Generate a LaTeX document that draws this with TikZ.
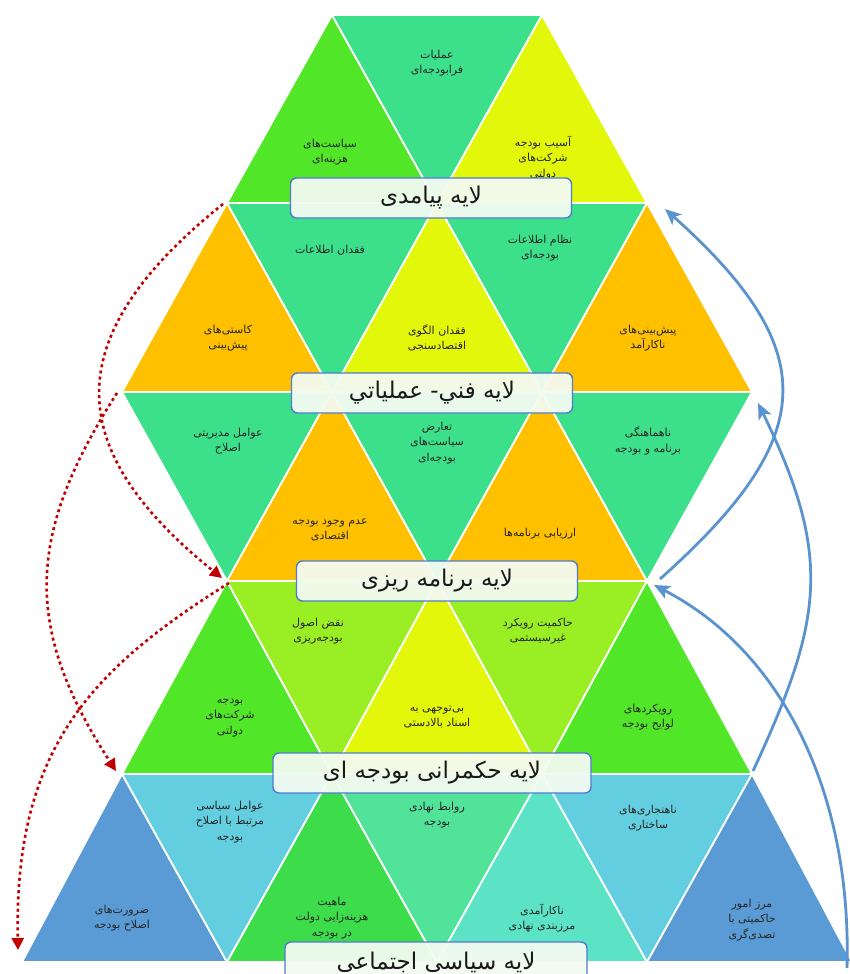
\documentclass[tikz,border=0pt]{standalone}
\usepackage{fontspec}
\usetikzlibrary{arrows.meta}
\TeXXeTstate=1
\newfontfamily\arabicfont[Script=Arabic]{DejaVu Sans}
\newcommand{\fa}[1]{{\arabicfont\beginR #1\endR}}
\definecolor{cGreen}{HTML}{52E628}
\definecolor{cTeal}{HTML}{3DE08A}
\definecolor{cYel}{HTML}{E3F70A}
\definecolor{cOrange}{HTML}{FFC000}
\definecolor{cLGreen}{HTML}{9AEE24}
\definecolor{cBlue}{HTML}{5B9BD5}
\definecolor{cLBlue}{HTML}{63CEDF}
\definecolor{cGreenB}{HTML}{3DDC4A}
\definecolor{cMint}{HTML}{52E39B}
\definecolor{cTurq}{HTML}{5CE3C6}
\definecolor{cRed}{HTML}{C00000}
\definecolor{cArrow}{HTML}{5B93CF}
\definecolor{cBoxLine}{HTML}{4F7BD0}
\definecolor{cBoxFill}{HTML}{F3FBF1}
\begin{document}
\begin{tikzpicture}[x=1pt,y=-1pt,
  tri/.style={draw=white,line width=1.8pt,line join=round},
  txt/.style={font=\fontsize{11}{15.5}\selectfont,text=black!85,align=center,inner sep=1pt},
  lab/.style={draw=cBoxLine,line width=1.4pt,fill=cBoxFill,fill opacity=0.95,text opacity=1,rounded corners=6pt,font=\fontsize{23}{26}\selectfont,text=black!90,minimum height=40pt,inner sep=0pt},
  reddot/.style={draw=cRed,line width=2.6pt,dash pattern=on 3pt off 3.2pt,-{Triangle[length=12pt,width=12pt]}},
  bluearr/.style={draw=cArrow,line width=2.8pt,-{Stealth[length=16pt,width=14pt,inset=4pt]}}]
\useasboundingbox (0,0) rectangle (849,974);
\fill[white] (0,0) rectangle (849,974);
% row 1
\filldraw[tri,fill=cGreen] (332,15) -- (437,203) -- (227,203) -- cycle;
\filldraw[tri,fill=cTeal] (332,15) -- (542,15) -- (437,203) -- cycle;
\filldraw[tri,fill=cYel] (542,15) -- (647,203) -- (437,203) -- cycle;
% row 2
\filldraw[tri,fill=cOrange] (227,203) -- (332,392) -- (122,392) -- cycle;
\filldraw[tri,fill=cTeal] (227,203) -- (437,203) -- (332,392) -- cycle;
\filldraw[tri,fill=cYel] (437,203) -- (542,392) -- (332,392) -- cycle;
\filldraw[tri,fill=cTeal] (437,203) -- (647,203) -- (542,392) -- cycle;
\filldraw[tri,fill=cOrange] (647,203) -- (752,392) -- (542,392) -- cycle;
% row 3
\filldraw[tri,fill=cTeal] (122,392) -- (332,392) -- (227,581) -- cycle;
\filldraw[tri,fill=cOrange] (332,392) -- (437,581) -- (227,581) -- cycle;
\filldraw[tri,fill=cTeal] (332,392) -- (542,392) -- (437,581) -- cycle;
\filldraw[tri,fill=cOrange] (542,392) -- (647,581) -- (437,581) -- cycle;
\filldraw[tri,fill=cTeal] (542,392) -- (752,392) -- (647,581) -- cycle;
% row 4
\filldraw[tri,fill=cGreen] (227,581) -- (332,774) -- (122,774) -- cycle;
\filldraw[tri,fill=cLGreen] (227,581) -- (437,581) -- (332,774) -- cycle;
\filldraw[tri,fill=cYel] (437,581) -- (542,774) -- (332,774) -- cycle;
\filldraw[tri,fill=cLGreen] (437,581) -- (647,581) -- (542,774) -- cycle;
\filldraw[tri,fill=cGreen] (647,581) -- (752,774) -- (542,774) -- cycle;
% row 5
\filldraw[tri,fill=cBlue] (122,774) -- (227,962) -- (22,962) -- cycle;
\filldraw[tri,fill=cLBlue] (122,774) -- (332,774) -- (227,962) -- cycle;
\filldraw[tri,fill=cGreenB] (332,774) -- (437,962) -- (227,962) -- cycle;
\filldraw[tri,fill=cMint] (332,774) -- (542,774) -- (437,962) -- cycle;
\filldraw[tri,fill=cTurq] (542,774) -- (647,962) -- (437,962) -- cycle;
\filldraw[tri,fill=cLBlue] (542,774) -- (752,774) -- (647,962) -- cycle;
\filldraw[tri,fill=cBlue] (752,774) -- (852,962) -- (647,962) -- cycle;
% texts row 1
\node[txt] (t11) at (330,152) {\fa{سیاست‌های}\\\fa{هزینه‌ای}};
\node[txt] (t12) at (437,63) {\fa{عملیات}\\\fa{فرابودجه‌ای}};
\node[txt] (t13) at (543,158) {\fa{آسیب بودجه}\\\fa{شرکت‌های}\\\fa{دولتی}};
% row 2
\node[txt] (t21) at (228,338) {\fa{کاستی‌های}\\\fa{پیش‌بینی}};
\node[txt] (t22) at (330,250) {\fa{فقدان اطلاعات}};
\node[txt] (t23) at (437,338) {\fa{فقدان الگوی}\\\fa{اقتصادسنجی}};
\node[txt] (t24) at (540,248) {\fa{نظام اطلاعات}\\\fa{بودجه‌ای}};
\node[txt] (t25) at (648,338) {\fa{پیش‌بینی‌های}\\\fa{ناکارآمد}};
% row 3
\node[txt] (t31) at (228,441) {\fa{عوامل مدیریتی}\\\fa{اصلاح}};
\node[txt] (t32) at (437,443) {\fa{تعارض}\\\fa{سیاست‌های}\\\fa{بودجه‌ای}};
\node[txt] (t33) at (648,441) {\fa{ناهماهنگی}\\\fa{برنامه و بودجه}};
\node[txt] (t34) at (330,530) {\fa{عدم وجود بودجه}\\\fa{اقتصادی}};
\node[txt] (t35) at (540,534) {\fa{ارزیابی برنامه‌ها}};
% row 4
\node[txt] (t41) at (318,631) {\fa{نقض اصول}\\\fa{بودجه‌ریزی}};
\node[txt] (t42) at (538,631) {\fa{حاکمیت رویکرد}\\\fa{غیرسیستمی}};
\node[txt] (t43) at (230,718) {\fa{بودجه}\\\fa{شرکت‌های}\\\fa{دولتی}};
\node[txt] (t44) at (437,717) {\fa{بی‌توجهی به}\\\fa{اسناد بالادستی}};
\node[txt] (t45) at (648,717) {\fa{رویکردهای}\\\fa{لوایح بودجه}};
% row 5
\node[txt] (t51) at (230,822) {\fa{عوامل سیاسی}\\\fa{مرتبط با اصلاح}\\\fa{بودجه}};
\node[txt] (t52) at (437,815) {\fa{روابط نهادی}\\\fa{بودجه}};
\node[txt] (t53) at (648,818) {\fa{ناهنجاری‌های}\\\fa{ساختاری}};
\node[txt] (t54) at (122,918) {\fa{ضرورت‌های}\\\fa{اصلاح بودجه}};
\node[txt] (t55) at (332,918) {\fa{ماهیت}\\\fa{هزینه‌زایی دولت}\\\fa{در بودجه}};
\node[txt] (t56) at (542,918) {\fa{ناکارآمدی}\\\fa{مرزبندی نهادی}};
\node[txt] (t57) at (752,920) {\fa{مرز امور}\\\fa{حاکمیتی با}\\\fa{تصدی‌گری}};
% layer labels
\node[lab,minimum width=281pt] (lab1) at (431,198) {\fa{لایه پیامدی}};
\node[lab,minimum width=281pt] (lab2) at (432,393) {\fa{لایه فني- عملياتي}};
\node[lab,minimum width=281pt] (lab3) at (437,581) {\fa{لایه برنامه ریزی}};
\node[lab,minimum width=318pt] (lab4) at (432,773) {\fa{لایه حکمرانی بودجه ای}};
\node[lab,minimum width=302pt] (lab5) at (436,962) {\fa{لایه سیاسی اجتماعی}};
% arrow end points
\coordinate (rA) at (223,204);
\coordinate (rB) at (222,578);
\coordinate (rC) at (117,393);
\coordinate (rD) at (116,771);
\coordinate (rE) at (229,583);
\coordinate (rF) at (18,950);
\coordinate (bA) at (660,579);
\coordinate (bB) at (665,209);
\coordinate (bC) at (753,771);
\coordinate (bD) at (758,403);
\coordinate (bE) at (847,968);
\coordinate (bF) at (654,585);
% red dotted arrows
\draw[reddot] (rA) .. controls (61,334) and (58,446) .. (rB);
\draw[reddot] (rC) .. controls (27,534) and (22,626) .. (rD);
\draw[reddot] (rE) .. controls (90,670) and (14,750) .. (rF);
% blue arrows
\draw[bluearr] (bA) .. controls (818,438) and (825,352) .. (bB);
\draw[bluearr] (bC) .. controls (823,620) and (833,557) .. (bD);
\draw[bluearr] (bE) .. controls (852,790) and (780,650) .. (bF);
\end{tikzpicture}
\end{document}
